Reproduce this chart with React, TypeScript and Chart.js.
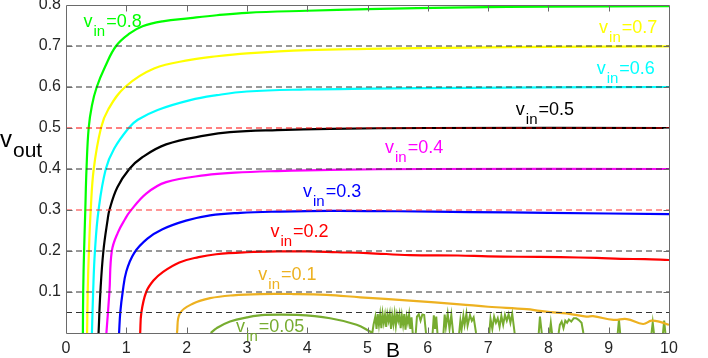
import React, { useEffect, useRef } from "react";
import { Chart, registerables } from "chart.js";

Chart.register(...registerables);

const FONT = '"Liberation Sans", Arial, Helvetica, sans-serif';

// ---- axis ranges / ticks ----
const xMin = 0;
const xMax = 10;
const xStep = 1;
const yMin = 0;
const yMax = 0.8;
const yStep = 0.1;

// ---- reference (dashed) levels ----
const refLevels = [0.05, 0.1, 0.2, 0.3, 0.4, 0.5, 0.6, 0.7];
const refColors = ["#333333", "#333333", "#333333", "#ff3030", "#333333", "#ff0000", "#333333", "#333333"];

// ---- curves v_out(B) for each v_in ----
const vin08B = [0.28, 0.285, 0.30, 0.32, 0.34, 0.376, 0.43, 0.51, 0.65, 0.83, 1.05, 1.27, 1.6, 2.06, 2.5, 3.0, 4.0, 5.0, 6.65, 8.0, 10];
const vin08V = [0.0, 0.1, 0.2, 0.3, 0.4, 0.5, 0.555, 0.6, 0.65, 0.7, 0.73, 0.748, 0.76, 0.768, 0.775, 0.781, 0.786, 0.79, 0.794, 0.796, 0.797];

const vin07B = [0.35, 0.36, 0.38, 0.41, 0.46, 0.58, 0.7, 0.98, 1.46, 2.06, 2.5, 3.0, 4.0, 5.0, 6.65, 8.0, 10];
const vin07V = [0.0, 0.1, 0.2, 0.3, 0.4, 0.5, 0.545, 0.6, 0.645, 0.666, 0.675, 0.682, 0.69, 0.693, 0.696, 0.698, 0.699];

const vin06B = [0.43, 0.45, 0.48, 0.54, 0.66, 0.8, 1.04, 1.19, 1.52, 2.06, 2.5, 3.0, 4.0, 5.0, 6.65, 8.0, 10];
const vin06V = [0.0, 0.1, 0.2, 0.3, 0.4, 0.45, 0.5, 0.52, 0.544, 0.568, 0.58, 0.589, 0.594, 0.596, 0.598, 0.599, 0.6];

const vin05B = [0.54, 0.57, 0.62, 0.69, 0.72, 0.85, 1.05, 1.26, 1.66, 2.32, 2.72, 3.5, 4.38, 6.0, 10];
const vin05V = [0.0, 0.1, 0.2, 0.276, 0.3, 0.355, 0.4, 0.428, 0.46, 0.482, 0.49, 0.495, 0.498, 0.5, 0.5];

const vin04B = [0.67, 0.72, 0.76, 0.86, 0.98, 1.06, 1.33, 1.66, 2.32, 2.8, 3.5, 4.38, 6.0, 10];
const vin04V = [0.0, 0.1, 0.2, 0.245, 0.278, 0.296, 0.34, 0.368, 0.385, 0.391, 0.395, 0.398, 0.4, 0.4];

const vin03B = [0.88, 0.9, 0.94, 1.0, 1.13, 1.35, 1.6, 1.99, 2.39, 2.89, 3.5, 4.38, 5.5, 6.7, 8.0, 10];
const vin03V = [0.0, 0.05, 0.1, 0.15, 0.195, 0.23, 0.253, 0.274, 0.287, 0.293, 0.296, 0.298, 0.297, 0.295, 0.293, 0.29];

const vin02B = [1.23, 1.25, 1.33, 1.45, 1.6, 1.88, 2.2, 2.49, 3.0, 3.5, 4.0, 4.5, 5.0, 5.7, 6.5, 7.0, 7.5, 8.2, 8.8, 9.2, 9.6, 10];
const vin02V = [0.0, 0.05, 0.1, 0.128, 0.148, 0.172, 0.185, 0.192, 0.197, 0.199, 0.199, 0.197, 0.195, 0.19, 0.189, 0.187, 0.186, 0.185, 0.183, 0.181, 0.18, 0.178];

const vin01B = [1.84, 1.89, 2.11, 2.39, 2.77, 3.22, 3.77, 4.32, 4.88, 5.7, 6.53, 7.0, 7.64, 7.86, 8.19, 8.3, 8.63, 8.74, 9.08, 9.3, 9.57, 9.71, 9.85, 10];
const vin01V = [0.0, 0.048, 0.072, 0.085, 0.092, 0.095, 0.095, 0.093, 0.087, 0.079, 0.07, 0.064, 0.058, 0.054, 0.049, 0.048, 0.04, 0.041, 0.032, 0.034, 0.022, 0.03, 0.027, 0.02];

const vin005B = [2.4, 2.5, 2.72, 3.0, 3.3, 3.83, 4.38, 4.82, 5.05, 5.08];
const vin005V = [0.0, 0.012, 0.028, 0.038, 0.044, 0.044, 0.036, 0.02, 0.003, 0.0];

// noisy tail of v_in = 0.05 (null = gap)
const vin005NoiseB = [
  5.08, 5.10, 5.13, 5.15, 5.17, 5.19, 5.21, 5.23, 5.25, 5.27, 5.29, 5.31, 5.33, 5.35, 5.37, 5.39, 5.41, 5.43, 5.45, 5.47, 5.49, 5.51, 5.53, 5.55, 5.57, 5.59, 5.61, 5.63, 5.65, 5.67, 5.69, 5.71, 5.73, 5.75, 5.77,
  5.80, 5.82, 5.85, 5.88, 5.91, 5.94, 5.97, 6.0,
  6.08, 6.10, 6.12, 6.14, 6.16, 6.2,
  6.26, 6.28, 6.30, 6.33, 6.36, 6.39, 6.42, 6.47,
  6.52, 6.54, 6.56, 6.59, 6.61, 6.64, 6.66, 6.70, 6.73, 6.76, 6.80, 6.9,
  7.02, 7.04, 7.07, 7.10, 7.13, 7.16, 7.19, 7.22, 7.25, 7.28, 7.31, 7.34, 7.37, 7.40, 7.44, 7.6,
  7.84, 7.86, 7.89, 7.95,
  8.02, 8.04, 8.06, 8.1,
  8.17, 8.19, 8.22, 8.25, 8.28, 8.31, 8.34, 8.38, 8.42, 8.46, 8.50, 8.55, 8.58, 8.8,
  9.15, 9.17, 9.19, 9.4,
  9.71, 9.73, 9.75, 9.8,
  9.90, 9.92, 9.94,
];
const vin005NoiseV = [
  0, 0.02, 0.04, 0.01, 0.046, 0.02, 0.045, 0.012, 0.047, 0.025, 0.044, 0.015, 0.046, 0.03, 0.047, 0.01, 0.043, 0.022, 0.047, 0.018, 0.045, 0.03, 0.046, 0.012, 0.042, 0.02, 0.046, 0.008, 0.04, 0.025, 0.045, 0.01, 0.038, 0, null,
  0, 0.04, 0.046, 0.03, 0.045, 0.044, 0, null,
  0, 0.043, 0.01, 0.04, 0, null,
  0, 0.045, 0.015, 0.047, 0.01, 0.044, 0, null,
  0, 0.03, 0.008, 0.042, 0.02, 0.047, 0.018, 0.044, 0.03, 0.038, 0, null,
  0, 0.035, 0.01, 0.04, 0.025, 0.036, 0.015, 0.042, 0.02, 0.044, 0.03, 0.046, 0.025, 0.047, 0, null,
  0, 0.04, 0, null,
  0, 0.025, 0, null,
  0, 0.02, 0.028, 0.012, 0.03, 0.025, 0.033, 0.028, 0.036, 0.036, 0.032, 0.025, 0, null,
  0, 0.032, 0, null,
  0, 0.026, 0, null,
  0, 0.03, 0,
];

// ---- curve labels ----
const labelTexts = ["0.8", "0.7", "0.6", "0.5", "0.4", "0.3", "0.2", "0.1", "0.05"];
const labelColors = ["#00ff00", "#ffff00", "#00ffff", "#000000", "#ff00ff", "#0000ff", "#ff0000", "#edb120", "#77ac30"];
const labelB = [0.29, 8.84, 8.8, 7.46, 5.29, 3.93, 3.39, 3.19, 2.82];
const labelV = [0.747, 0.731, 0.632, 0.532, 0.438, 0.332, 0.233, 0.129, 0.003];

const curves = [
  { B: vin08B, V: vin08V, color: "#00ff00" },
  { B: vin07B, V: vin07V, color: "#ffff00" },
  { B: vin06B, V: vin06V, color: "#00ffff" },
  { B: vin05B, V: vin05V, color: "#000000" },
  { B: vin04B, V: vin04V, color: "#ff00ff" },
  { B: vin03B, V: vin03V, color: "#0000ff" },
  { B: vin02B, V: vin02V, color: "#ff0000" },
  { B: vin01B, V: vin01V, color: "#edb120" },
  { B: vin005B, V: vin005V, color: "#77ac30" },
];

const zip = (xs: number[], ys: (number | null)[]) => xs.map((x, i) => ({ x, y: ys[i] }));

const framePlugin = {
  id: "frame",
  afterDatasetsDraw(chart: any) {
    const { ctx, chartArea: a, scales } = chart;
    const xs = scales.x;
    const ys = scales.y;
    ctx.save();
    ctx.strokeStyle = "#6a6a6a";
    ctx.lineWidth = 1;
    const L = Math.round(a.left) + 0.5;
    const R = Math.round(a.right) + 0.5;
    const T = Math.round(a.top) + 0.5;
    const Bt = Math.round(a.bottom) + 0.5;
    ctx.beginPath();
    ctx.rect(L, T, R - L, Bt - T);
    ctx.stroke();
    const tl = 6;
    ctx.beginPath();
    for (let v = xMin + xStep; v < xMax - 1e-9; v += xStep) {
      const px = Math.round(xs.getPixelForValue(v)) + 0.5;
      ctx.moveTo(px, Bt);
      ctx.lineTo(px, Bt - tl);
      ctx.moveTo(px, T);
      ctx.lineTo(px, T + tl);
    }
    for (let v = yMin + yStep; v < yMax - 1e-9; v += yStep) {
      const py = Math.round(ys.getPixelForValue(v)) + 0.5;
      ctx.moveTo(L, py);
      ctx.lineTo(L + tl, py);
      ctx.moveTo(R, py);
      ctx.lineTo(R - tl, py);
    }
    ctx.stroke();
    ctx.restore();
  },
  afterDraw(chart: any) {
    const { ctx, scales } = chart;
    const xs = scales.x;
    const ys = scales.y;
    ctx.save();
    ctx.textBaseline = "alphabetic";
    ctx.textAlign = "left";
    labelTexts.forEach((t, i) => {
      const x = xs.getPixelForValue(labelB[i]);
      const y = ys.getPixelForValue(labelV[i]);
      ctx.fillStyle = labelColors[i];
      ctx.font = `18px ${FONT}`;
      ctx.fillText("v", x, y);
      const w1 = ctx.measureText("v").width;
      ctx.font = `15px ${FONT}`;
      ctx.fillText("in", x + w1 + 1, y + 9);
      const w2 = ctx.measureText("in").width;
      ctx.font = `18px ${FONT}`;
      ctx.fillText("=" + t, x + w1 + w2 + 2, y);
    });
    // axis titles
    ctx.fillStyle = "#000000";
    ctx.font = `24px ${FONT}`;
    ctx.fillText("v", 0, 147);
    const wv = ctx.measureText("v").width;
    ctx.font = `21px ${FONT}`;
    ctx.fillText("out", wv + 1, 157);
    ctx.font = `21px ${FONT}`;
    ctx.fillText("B", 386, 357);
    ctx.restore();
  },
};

export default function App() {
  const ref = useRef<HTMLCanvasElement | null>(null);
  useEffect(() => {
    if (!ref.current) return;
    const datasets: any[] = [];
    refLevels.forEach((lv, i) => {
      datasets.push({
        data: [
          { x: xMin, y: lv },
          { x: xMax, y: lv },
        ],
        borderColor: refColors[i],
        borderWidth: 1,
        borderDash: [6, 4],
        pointRadius: 0,
        order: 0,
      });
    });
    curves.forEach((c) => {
      datasets.push({
        data: zip(c.B, c.V),
        borderColor: c.color,
        borderWidth: 2.2,
        pointRadius: 0,
        tension: 0.4,
        order: 1,
      });
    });
    datasets.push({
      data: zip(vin005NoiseB, vin005NoiseV),
      borderColor: "#77ac30",
      borderWidth: 2,
      pointRadius: 0,
      tension: 0,
      spanGaps: false,
      order: 1,
    });
    const chart = new Chart(ref.current, {
      type: "line",
      data: { datasets },
      plugins: [framePlugin],
      options: {
        animation: false,
        responsive: false,
        maintainAspectRatio: false,
        layout: { padding: { top: 5, right: 39, bottom: 0, left: 0 } },
        plugins: { legend: { display: false }, tooltip: { enabled: false } },
        scales: {
          x: {
            type: "linear",
            min: xMin,
            max: xMax,
            ticks: {
              stepSize: xStep,
              color: "#262626",
              font: { family: FONT, size: 16 },
              padding: 6,
              maxRotation: 0,
              autoSkip: false,
            },
            grid: { display: false, drawTicks: false },
            border: { display: false },
            afterFit: (s: any) => {
              s.height = 25;
              s.paddingLeft = 0;
              s.paddingRight = 0;
            },
          },
          y: {
            type: "linear",
            min: yMin,
            max: yMax,
            ticks: {
              stepSize: yStep,
              color: "#262626",
              font: { family: FONT, size: 16 },
              padding: 5,
              autoSkip: false,
              callback: (v: any) => (Math.abs(v) < 1e-9 ? "" : Number(v).toFixed(1)),
            },
            grid: { display: false, drawTicks: false },
            border: { display: false },
            afterFit: (s: any) => {
              s.width = 66;
              s.paddingTop = 0;
              s.paddingBottom = 0;
            },
          },
        },
      },
    });
    return () => chart.destroy();
  }, []);
  return (
    <div style={{ position: "absolute", left: 0, top: 0, width: 708, height: 358, background: "#fff" }}>
      <canvas ref={ref} width={708} height={358} style={{ display: "block", width: 708, height: 358 }} />
    </div>
  );
}
